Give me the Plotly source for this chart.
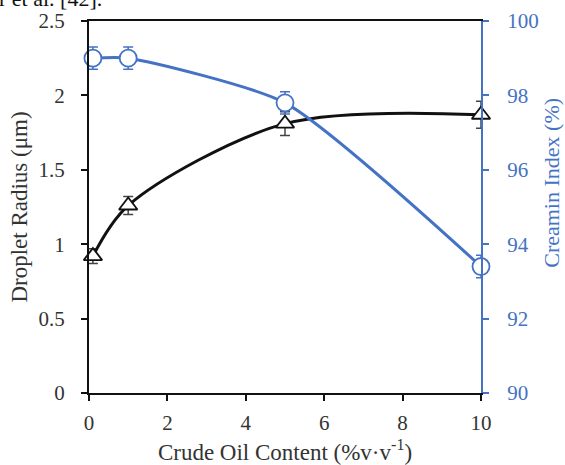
import plotly.graph_objects as go

oil_content = [0.1, 1, 5, 10]
droplet_radius = [0.92, 1.26, 1.81, 1.87]
droplet_err = [0.05, 0.06, 0.08, 0.09]
creaming_index = [99.0, 99.0, 97.8, 93.4]
creaming_err = [0.3, 0.3, 0.3, 0.3]

black = "#111111"
blue = "#4472C4"
font_family = "Liberation Serif, Times New Roman, serif"

fig = go.Figure()
fig.add_trace(go.Scatter(
    x=oil_content, y=creaming_index, yaxis="y2", mode="lines+markers",
    line=dict(color=blue, width=3, shape="spline", smoothing=0.6),
    marker=dict(symbol="circle", size=17, color="white", line=dict(color=blue, width=1.8)),
    error_y=dict(type="data", array=creaming_err, color=blue, thickness=1.5, width=5),
    cliponaxis=False, showlegend=False,
))
fig.add_trace(go.Scatter(
    x=oil_content, y=droplet_radius, mode="lines+markers",
    line=dict(color=black, width=3, shape="spline", smoothing=0.9),
    marker=dict(symbol="triangle-up", size=16, color="white", line=dict(color=black, width=1.8)),
    error_y=dict(type="data", array=droplet_err, color="#444444", thickness=1.5, width=5),
    cliponaxis=False, showlegend=False,
))

fig.update_layout(
    width=565, height=465,
    margin=dict(l=89, r=84, t=21, b=72),
    paper_bgcolor="white", plot_bgcolor="white",
    font=dict(family=font_family, size=21, color="#333333"),
    xaxis=dict(
        range=[0, 10], tickvals=[0, 2, 4, 6, 8, 10],
        showline=True, linecolor=black, linewidth=2, mirror=True,
        ticks="outside", ticklen=6, tickcolor=black, tickwidth=1.5,
        ticklabelstandoff=4, automargin=False,
        showgrid=False, zeroline=False,
        title=dict(text="Crude Oil Content (%v·v<sup>-1</sup>)", standoff=10,
                   font=dict(size=23)),
    ),
    yaxis=dict(
        range=[0, 2.5], tickvals=[0, 0.5, 1, 1.5, 2, 2.5],
        ticktext=["0", "0.5", "1", "1.5", "2", "2.5"],
        showline=True, linecolor=black, linewidth=2,
        ticks="outside", ticklen=6, tickcolor=black, tickwidth=1.5,
        ticklabelstandoff=12, automargin=False,
        showgrid=False, zeroline=False,
        title=dict(text="Droplet Radius (μm)", standoff=4, font=dict(size=23)),
    ),
    yaxis2=dict(
        range=[90, 100], tickvals=[90, 92, 94, 96, 98, 100],
        overlaying="y", side="right",
        showline=True, linecolor=blue, linewidth=2,
        ticks="outside", ticklen=6, tickcolor=blue, tickwidth=1.5,
        ticklabelstandoff=14, automargin=False,
        tickfont=dict(color=blue),
        showgrid=False, zeroline=False,
    ),
    annotations=[
        dict(
            text="r et al. [42].", xref="paper", yref="paper",
            x=-0.235, y=1.022, xanchor="left", yanchor="bottom",
            showarrow=False, font=dict(size=22, color="#111111", family=font_family),
        ),
        dict(
            text="Creamin Index (%)", xref="paper", yref="paper",
            x=1.181, y=0.565, xanchor="center", yanchor="middle", textangle=-90,
            showarrow=False, font=dict(size=22, color=blue, family=font_family),
        ),
    ],
)

fig.write_html("out.html")
